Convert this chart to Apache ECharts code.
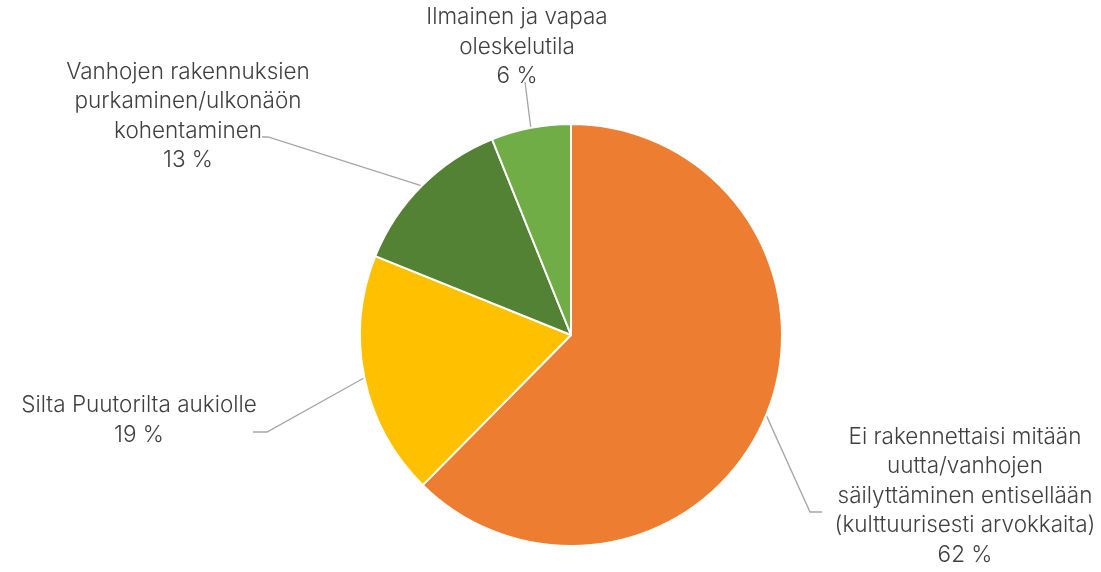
<!DOCTYPE html>
<html>
<head>
<meta charset="utf-8">
<script src="https://cdn.jsdelivr.net/npm/echarts@6/dist/echarts.min.js"></script>
<style>
html, body { margin: 0; padding: 0; background: #fff; }
#pie { width: 1101px; height: 572px; }
</style>
</head>
<body>
<div id="pie"></div>
<script>
// data
var categories = [
	'Ei rakennettaisi mitään\nuutta/vanhojen\nsäilyttäminen entisellään\n(kulttuurisesti arvokkaita)',
	'Silta Puutorilta aukiolle',
	'Vanhojen rakennuksien\npurkaminen/ulkonäön\nkohentaminen',
	'Ilmainen ja vapaa\noleskelutila'
];
var values = [62.4, 18.7, 12.8, 6.1];
var colors = ['#ED7D31', '#FFC000', '#548235', '#70AD47'];

// where the labels sit and how the leader lines bend
var labelPos = [[965, 496], [139, 420], [188, 116], [517, 47]];
var lineBend = [[[810, 512], [822, 512]], [[267, 432], [253, 432]], [[268, 137], [262, 137]], [[525, 82], [525, 82]]];

var pieData = [];
for (var i = 0; i < categories.length; i++) {
	pieData.push({
		name: categories[i],
		value: values[i],
		itemStyle: { color: colors[i] }
	});
}

var option = {
	backgroundColor: '#fff',
	animation: false,
	series: [{
		type: 'pie',
		center: [571, 335],
		radius: 211,
		startAngle: 90,
		clockwise: true,
		avoidLabelOverlap: false,
		itemStyle: {
			borderColor: '#fff',
			borderWidth: 2
		},
		label: {
			show: true,
			position: 'outside',
			fontFamily: 'Inter',
			fontWeight: 300,
			fontSize: 22.5,
			lineHeight: 29.5,
			color: '#404040',
			formatter: function(p) {
				return p.name + '\n' + Math.round(p.percent) + ' %';
			}
		},
		labelLine: {
			show: true,
			smooth: false,
			lineStyle: { color: '#A6A6A6', width: 1.3 }
		},
		labelLayout: function(params) {
			var k = params.dataIndex;
			var start = params.labelLinePoints ? params.labelLinePoints[0] : lineBend[k][0];
			return {
				x: labelPos[k][0],
				y: labelPos[k][1],
				align: 'center',
				verticalAlign: 'middle',
				labelLinePoints: [start, lineBend[k][0], lineBend[k][1]]
			};
		},
		data: pieData
	}]
};

var pieChart = echarts.init(document.getElementById('pie'));
pieChart.setOption(option);
</script>
</body>
</html>
